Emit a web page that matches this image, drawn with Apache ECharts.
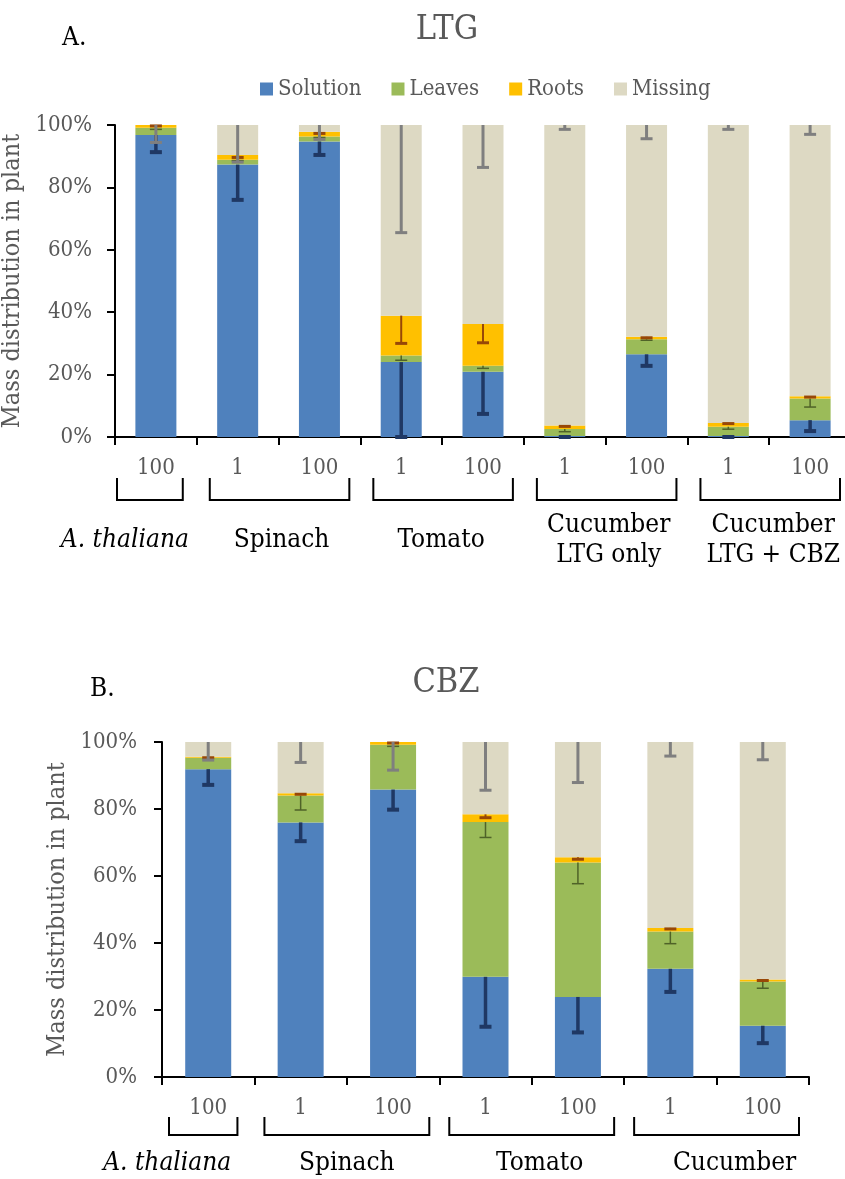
<!DOCTYPE html>
<html>
<head>
<meta charset="utf-8">
<script src="https://cdn.jsdelivr.net/npm/echarts@6/dist/echarts.min.js"></script>
<style>
html,body{margin:0;padding:0;background:#fff;}
#c{width:845px;height:1179px;}
</style>
</head>
<body>
<div id="c"></div>
<script>
// ---------- DATA ----------
const seriesNames = ['Solution', 'Leaves', 'Roots', 'Missing'];

// Panel A: LTG
const ltgCats = ['100', '1', '100', '1', '100', '1', '100', '1', '100'];
const ltgSolution = [96.8, 87.3, 94.7, 24.0, 20.9, 0.3, 26.5, 0.3, 5.4];
const ltgLeaves   = [2.3, 1.6, 1.6, 2.1, 1.9, 2.3, 4.8, 3.0, 6.9];
const ltgRoots    = [0.9, 1.5, 1.5, 12.8, 13.4, 1.1, 0.8, 1.2, 0.8];
const ltgMissing  = [0.0, 9.6, 2.2, 61.1, 63.8, 96.3, 67.9, 95.5, 86.9];
const ltgSolutionErr = [5.5, 11.3, 4.3, 24.0, 13.5, 0.3, 3.7, 0.3, 3.5];
const ltgLeavesErr   = [0.5, 0.3, 0.3, 1.5, 0.8, 0.9, 0.3, 0.8, 2.7];
const ltgRootsErr    = [0.3, 0.8, 0.5, 8.9, 6.0, 0.3, 0.3, 0.2, 0.3];
const ltgMissingErr  = [5.6, 11.9, 4.6, 34.5, 13.6, 1.4, 4.4, 1.4, 3.0];
const ltgGroupNames = ['A. thaliana', 'Spinach', 'Tomato', 'Cucumber\nLTG only', 'Cucumber\nLTG + CBZ'];
const ltgGroupStart = [0, 1, 3, 5, 7];
const ltgGroupEnd   = [0, 2, 4, 6, 8];

// Panel B: CBZ
const cbzCats = ['100', '1', '100', '1', '100', '1', '100'];
const cbzSolution = [91.9, 76.0, 85.8, 29.9, 23.9, 32.3, 15.3];
const cbzLeaves   = [3.4, 8.0, 13.4, 46.2, 40.1, 11.1, 13.2];
const cbzRoots    = [0.3, 0.7, 0.8, 2.3, 1.6, 1.1, 0.6];
const cbzMissing  = [4.4, 15.3, 0.0, 21.6, 34.4, 55.5, 70.9];
const cbzSolutionErr = [4.7, 5.6, 6.0, 14.9, 10.6, 6.9, 5.2];
const cbzLeavesErr   = [0.0, 4.3, 0.5, 4.6, 6.3, 3.6, 2.0];
const cbzRootsErr    = [0.3, 0.3, 0.3, 1.0, 0.6, 0.3, 0.3];
const cbzMissingErr  = [5.4, 6.1, 8.4, 14.4, 12.1, 4.2, 5.3];
const cbzGroupNames = ['A. thaliana', 'Spinach', 'Tomato', 'Cucumber'];
const cbzGroupStart = [0, 1, 3, 5];
const cbzGroupEnd   = [0, 2, 4, 6];

// ---------- STYLE ----------
const F = "'DejaVu Serif Condensed', 'DejaVu Serif', serif";
const GRAY = '#595959';
const barColors = ['#4F81BD', '#9BBB59', '#FFC000', '#DDD9C3'];
const errColors = ['#1F3864', '#4F6228', '#984807', '#7F7F7F'];
const errLine = [3.5, 1.5, 2, 3];
const errCap  = [4, 1.5, 3, 3];

const chart = echarts.init(document.getElementById('c'), null, {renderer: 'canvas'});

function stackTops(layers) {
  const tops = [];
  let acc = layers[0].map(() => 0);
  layers.forEach(l => { acc = acc.map((a, i) => a + l[i]); tops.push(acc.slice()); });
  return tops;
}

function errSeries(layers, errs, axisIdx) {
  const tops = stackTops(layers);
  return errs.map((err, k) => ({
    type: 'custom',
    name: seriesNames[k] + ' err',
    xAxisIndex: axisIdx, yAxisIndex: axisIdx,
    z: 5,
    silent: true,
    encode: {x: 0, y: [1, 2]},
    data: err.map((e, i) => [i, tops[k][i], tops[k][i] - e]),
    renderItem: function (params, api) {
      const x = api.value(0), t = api.value(1), b = api.value(2);
      if (t - b <= 0) return null;
      const p1 = api.coord([x, t]);
      const p2 = api.coord([x, b]);
      return {
        type: 'group',
        children: [
          {type: 'line', shape: {x1: p1[0], y1: p1[1], x2: p2[0], y2: p2[1]},
           style: {stroke: errColors[k], lineWidth: errLine[k]}},
          {type: 'line', shape: {x1: p2[0] - 6, y1: p2[1], x2: p2[0] + 6, y2: p2[1]},
           style: {stroke: errColors[k], lineWidth: errCap[k]}}
        ]
      };
    }
  }));
}

function bracketSeries(names, starts, ends, axisIdx, cfg) {
  return {
    type: 'custom',
    xAxisIndex: axisIdx, yAxisIndex: axisIdx,
    silent: true,
    clip: false,
    encode: {x: [0, 1], y: 2},
    data: starts.map((s, i) => [s, ends[i], 0]),
    renderItem: function (params, api) {
      const i = params.dataIndex;
      const s = api.value(0), e = api.value(1);
      const band = api.size([1, 0])[0];
      const ps = api.coord([s, 0]);
      const pe = api.coord([e, 0]);
      const left = ps[0] - band / 2 + (i === 0 ? cfg.firstInsetL : cfg.insetL);
      const right = pe[0] + band / 2 - (i === 0 ? cfg.firstInsetR : cfg.insetR);
      const y0 = ps[1] + cfg.bTop, y1 = ps[1] + cfg.bBot;
      const cx = (ps[0] + pe[0]) / 2 + cfg.labelShift[i];
      return {
        type: 'group',
        children: [
          {type: 'polyline', shape: {points: [[left, y0], [left, y1], [right, y1], [right, y0]]},
           style: {stroke: '#000', lineWidth: 2, fill: null}},
          {type: 'text', style: {
            text: names[i], x: cx, y: ps[1] + cfg.labelY,
            align: 'center', verticalAlign: 'middle',
            fontFamily: F, fontSize: cfg.fontSize, lineHeight: 30,
            fontStyle: i === 0 ? 'italic' : 'normal', fill: '#000'}}
        ]
      };
    }
  };
}

function xAxisCfg(cats, gi) {
  return {
    type: 'category', gridIndex: gi, data: cats,
    axisLine: {lineStyle: {color: '#000', width: 2}},
    axisTick: {show: true, length: 8, lineStyle: {color: '#000', width: 2}},
    axisLabel: {color: GRAY, fontSize: 22, fontFamily: F, margin: 20},
    splitLine: {show: false}
  };
}
function yAxisCfg(gi, gap, margin) {
  return {
    type: 'value', gridIndex: gi, min: 0, max: 100, interval: 20,
    axisLine: {show: true, lineStyle: {color: '#000', width: 2}},
    axisTick: {show: true, length: 8, lineStyle: {color: '#000', width: 2}},
    axisLabel: {formatter: '{value}%', color: GRAY, fontSize: 22, fontFamily: F, margin: margin},
    splitLine: {show: false},
    name: 'Mass distribution in plant', nameLocation: 'middle', nameGap: gap,
    nameTextStyle: {color: GRAY, fontSize: 25, fontFamily: F}
  };
}

const ltgLayers = [ltgSolution, ltgLeaves, ltgRoots, ltgMissing];
const cbzLayers = [cbzSolution, cbzLeaves, cbzRoots, cbzMissing];

const barSeries = [];
ltgLayers.forEach((d, k) => barSeries.push({
  type: 'bar', name: seriesNames[k], stack: 'ltg', xAxisIndex: 0, yAxisIndex: 0,
  barWidth: 41, data: d, itemStyle: {color: barColors[k]}, emphasis: {disabled: true}
}));
cbzLayers.forEach((d, k) => barSeries.push({
  type: 'bar', name: seriesNames[k], stack: 'cbz', xAxisIndex: 1, yAxisIndex: 1,
  barWidth: 46, data: d, itemStyle: {color: barColors[k]}, emphasis: {disabled: true}
}));

const option = {
  animation: false,
  backgroundColor: '#fff',
  textStyle: {fontFamily: F},
  grid: [
    {left: 115, width: 736, top: 125, height: 312, outerBoundsMode: 'none', containLabel: false},
    {left: 162, width: 647, top: 742, height: 335, outerBoundsMode: 'none', containLabel: false}
  ],
  legend: {
    data: seriesNames, left: 255, top: 73, itemWidth: 13, itemHeight: 13, itemGap: 30,
    icon: 'rect', textStyle: {color: GRAY, fontSize: 22, fontFamily: F}, selectedMode: false
  },
  xAxis: [xAxisCfg(ltgCats, 0), xAxisCfg(cbzCats, 1)],
  yAxis: [yAxisCfg(0, 78, 23), yAxisCfg(1, 82, 25)],
  graphic: [
    {type: 'text', left: 62, top: 25, style: {text: 'A.', fontFamily: F, fontSize: 26, fill: '#000'}},
    {type: 'text', x: 447, y: 30, style: {text: 'LTG', fontFamily: F, fontSize: 34, fill: GRAY, align: 'center', verticalAlign: 'middle'}},
    {type: 'text', left: 90, top: 676, style: {text: 'B.', fontFamily: F, fontSize: 26, fill: '#000'}},
    {type: 'text', x: 446, y: 683, style: {text: 'CBZ', fontFamily: F, fontSize: 34, fill: GRAY, align: 'center', verticalAlign: 'middle'}}
  ],
  series: barSeries
    .concat(errSeries(ltgLayers, [ltgSolutionErr, ltgLeavesErr, ltgRootsErr, ltgMissingErr], 0))
    .concat(errSeries(cbzLayers, [cbzSolutionErr, cbzLeavesErr, cbzRootsErr, cbzMissingErr], 1))
    .concat([
      bracketSeries(ltgGroupNames, ltgGroupStart, ltgGroupEnd, 0,
        {insetL: 13, insetR: 11, firstInsetL: 2, firstInsetR: 14, bTop: 41, bBot: 63, labelY: 103, fontSize: 26,
         labelShift: [-31, 3, -1, 3, 4]}),
      bracketSeries(cbzGroupNames, cbzGroupStart, cbzGroupEnd, 1,
        {insetL: 10, insetR: 10, firstInsetL: 7, firstInsetR: 17, bTop: 40, bBot: 58, labelY: 86, fontSize: 26,
         labelShift: [-41, 0, 8, 18]})
    ])
};
chart.setOption(option);
</script>
</body>
</html>
